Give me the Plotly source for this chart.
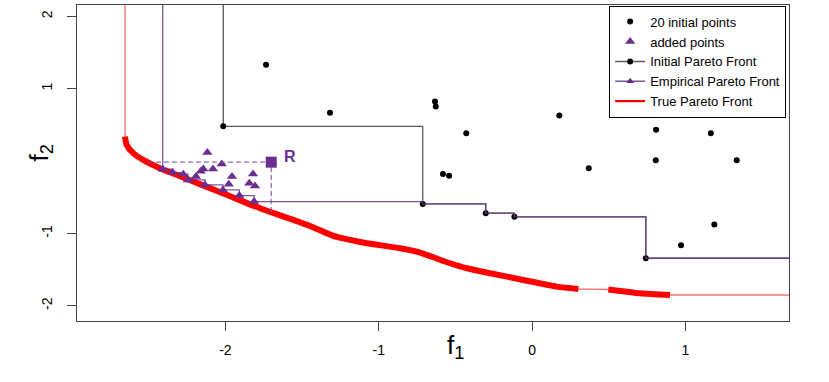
import plotly.graph_objects as go

# ---------------- data ----------------
# 20 initial design points (f1, f2)
INIT_F1 = [-1.735, -2.014, -1.318, -0.633, -0.628, -0.429, -0.581, -0.541, -0.713, -0.302,
           -0.115, 0.178, 0.370, 0.809, 0.807, 1.166, 1.335, 1.189, 0.972, 0.742]
INIT_F2 = [1.332, 0.481, 0.668, 0.824, 0.755, 0.387, -0.176, -0.203, -0.591, -0.719,
           -0.770, 0.631, -0.097, 0.433, 0.014, 0.387, 0.014, -0.877, -1.162, -1.342]

# added (infill) points
ADDED_F1 = [-2.118, -2.024, -2.081, -2.144, -2.161, -2.409, -2.344, -2.275, -2.244, -2.192,
            -2.133, -1.957, -1.978, -2.016, -1.820, -1.844, -1.807, -1.909, -1.813]
ADDED_F2 = [0.119, -0.041, -0.107, -0.107, -0.138, -0.111, -0.158, -0.180, -0.259, -0.213,
            -0.328, -0.213, -0.318, -0.398, -0.176, -0.304, -0.342, -0.476, -0.559]

# reference point R and its dashed box towards the true front
REF_F1 = [-1.701]
REF_F2 = [-0.014]
BOX_F1 = [-2.505, -1.701, -1.701]
BOX_F2 = [-0.014, -0.014, -0.707]

# true Pareto front (dense sampled points; None marks the unsampled gap)
TRUE_F1 = [-2.655, -2.644, -2.601, -2.536, -2.427, -2.318, -2.209, -2.100, -1.992, -1.883,
           -1.774, -1.665, -1.557, -1.448, -1.296, -1.187, -1.078, -0.861, -0.752, -0.644,
           -0.535, -0.426, -0.274, -0.057, 0.161, 0.302, None, 0.498, 0.705, 0.900]
TRUE_F2 = [0.340, 0.225, 0.111, 0.018, -0.097, -0.189, -0.282, -0.373, -0.465, -0.559,
           -0.650, -0.733, -0.812, -0.895, -1.033, -1.088, -1.134, -1.203, -1.250, -1.328,
           -1.411, -1.480, -1.549, -1.642, -1.734, -1.766, None, -1.773, -1.826, -1.849]

X_TICKS = [-2, -1, 0, 1]
X_TICKTEXT = ["-2", "-1", "0", "1"]
Y_TICKS = [-2, -1, 1, 2]
Y_TICKTEXT = ["-2", "-1", "1", "2"]

X_RANGE = [-2.968, 1.676]
Y_RANGE = [-2.209, 2.158]

# ---------------- helpers ----------------
FAR = 50.0  # used to extend the staircases beyond the plotting region


def pareto(f1, f2):
    pts = sorted(zip(f1, f2))
    front, best = [], float("inf")
    for a, b in pts:
        if b < best:
            front.append((a, b))
            best = b
    return front


def staircase(front):
    xs = [front[0][0]] + [p[0] for p in front] + [FAR]
    ys = [FAR] + [p[1] for p in front] + [front[-1][1]]
    return xs, ys


init_front = pareto(INIT_F1, INIT_F2)
emp_front = pareto(INIT_F1 + ADDED_F1, INIT_F2 + ADDED_F2)

PURPLE = "#6B2D8F"
PURPLE_LINE = "rgba(100,55,140,0.85)"
GRAY_LINE = "#5a5a5a"
RED = "#FF0000"

fig = go.Figure()

# true front: thin connecting line incl. extensions
tf = [(a, b) for a, b in zip(TRUE_F1, TRUE_F2) if a is not None]
thin_x = [tf[0][0]] + [p[0] for p in tf] + [FAR]
thin_y = [FAR] + [p[1] for p in tf] + [tf[-1][1]]
fig.add_trace(go.Scatter(x=thin_x, y=thin_y, mode="lines",
                         line=dict(color="rgba(255,0,0,0.55)", width=1.4),
                         showlegend=False, hoverinfo="skip"))
# true front: thick sampled part
fig.add_trace(go.Scatter(x=TRUE_F1, y=TRUE_F2, mode="lines",
                         line=dict(color=RED, width=6, shape="spline", smoothing=0.6),
                         connectgaps=False, showlegend=False, hoverinfo="skip"))

# initial Pareto front staircase
ix, iy = staircase(init_front)
fig.add_trace(go.Scatter(x=ix, y=iy, mode="lines", line=dict(color=GRAY_LINE, width=1.3, shape="hv"),
                         showlegend=False, hoverinfo="skip"))

# initial points
fig.add_trace(go.Scatter(x=INIT_F1, y=INIT_F2, mode="markers", name="20 initial points",
                         marker=dict(color="black", size=6, symbol="circle"), legendrank=1))

# empirical Pareto front staircase
ex, ey = staircase(emp_front)
fig.add_trace(go.Scatter(x=ex, y=ey, mode="lines", line=dict(color=PURPLE_LINE, width=1.3, shape="hv"),
                         showlegend=False, hoverinfo="skip"))

# added points
fig.add_trace(go.Scatter(x=ADDED_F1, y=ADDED_F2, mode="markers", name="added points",
                         marker=dict(color=PURPLE, size=9, symbol="triangle-up"), legendrank=2))

# dashed box from R
fig.add_trace(go.Scatter(x=BOX_F1, y=BOX_F2, mode="lines",
                         line=dict(color="rgba(120,80,170,0.85)", width=1.3, dash="5px,3px"),
                         showlegend=False, hoverinfo="skip"))
# reference point R
fig.add_trace(go.Scatter(x=REF_F1, y=REF_F2, mode="markers",
                         marker=dict(color=PURPLE, size=11, symbol="square"),
                         showlegend=False, hoverinfo="skip"))

# legend-only entries
fig.add_trace(go.Scatter(x=[None], y=[None], mode="lines+markers", name="Initial Pareto Front",
                         line=dict(color=GRAY_LINE, width=1.5), marker=dict(color="black", size=6),
                         legendrank=3))
fig.add_trace(go.Scatter(x=[None], y=[None], mode="lines+markers", name="Empirical Pareto Front",
                         line=dict(color=PURPLE_LINE, width=1.5),
                         marker=dict(color=PURPLE, size=7, symbol="triangle-up"), legendrank=4))
fig.add_trace(go.Scatter(x=[None], y=[None], mode="lines", name="True Pareto Front",
                         line=dict(color=RED, width=2.2), legendrank=5))

axis_common = dict(ticks="outside", ticklen=9, tickcolor="#444", showline=True, linecolor="#444",
                   linewidth=1, mirror=True, showgrid=False, zeroline=False,
                   tickfont=dict(size=14, color="black"))

fig.update_layout(
    width=829, height=382,
    margin=dict(l=77, r=40, t=5, b=61, autoexpand=False),
    plot_bgcolor="white", paper_bgcolor="white",
    font=dict(family="Liberation Sans, Arial, Helvetica, sans-serif", size=13, color="black"),
    xaxis=dict(range=X_RANGE, tickvals=X_TICKS, ticktext=X_TICKTEXT, ticklabelstandoff=7, **axis_common),
    yaxis=dict(range=Y_RANGE, tickvals=Y_TICKS, ticktext=Y_TICKTEXT, tickangle=-90,
               ticklabelstandoff=9, **axis_common),
    legend=dict(x=0.996, y=0.998, xanchor="right", yanchor="top", bgcolor="white",
                bordercolor="black", borderwidth=1, font=dict(size=13), tracegroupgap=0),
    showlegend=True,
    annotations=[
        dict(text="f<sub>1</sub>", xref="paper", yref="paper", x=0.532, y=-0.082,
             xanchor="center", yanchor="middle", showarrow=False, font=dict(size=26)),
        dict(text="f<sub>2</sub>", xref="paper", yref="paper", x=-0.051, y=0.532,
             xanchor="center", yanchor="middle", showarrow=False, textangle=-90, font=dict(size=26)),
        dict(text="<b>R</b>", x=REF_F1[0], y=REF_F2[0], xref="x", yref="y", xanchor="left",
             yanchor="middle", xshift=11, yshift=6, showarrow=False,
             font=dict(size=16, color=PURPLE)),
    ],
)

fig.write_html("out.html", config={"displayModeBar": False},
               post_script="document.body.style.margin='0px';")
